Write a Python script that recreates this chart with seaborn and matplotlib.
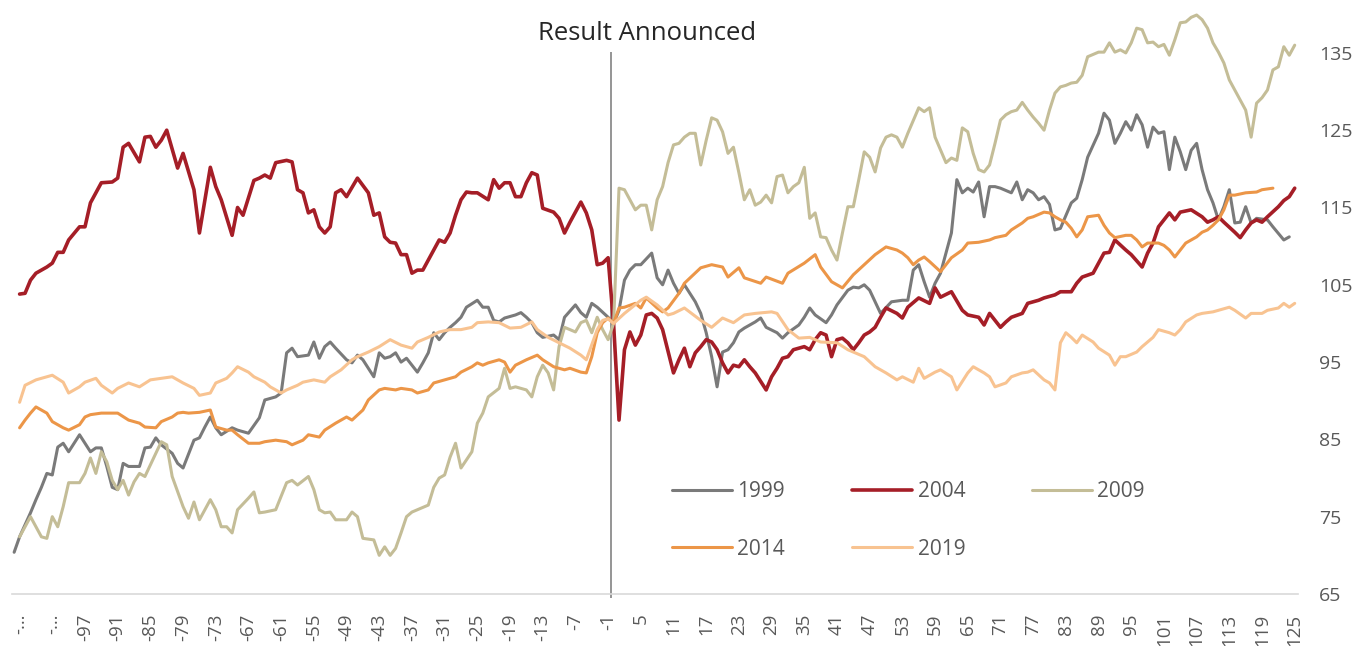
import pandas as pd
import seaborn as sns
import matplotlib.pyplot as plt

# Index values (100 = day of result): (day, value)
s1999 = [(-110, 70.4), (-109, 72.4), (-107, 75.5), (-106, 77.2), (-105, 78.8), (-104, 80.6), (-103, 80.4),
         (-102, 84.0), (-101, 84.5), (-100, 83.4), (-98, 85.6), (-96, 83.4), (-95, 83.9), (-94, 83.9),
         (-93, 81.5), (-92, 78.8), (-91, 78.5), (-90, 81.9), (-89, 81.5), (-87, 81.5), (-86, 83.9),
         (-85, 84.0), (-84, 85.2), (-83, 84.3), (-81, 83.2), (-80, 81.9), (-79, 81.3), (-77, 84.9),
         (-76, 85.2), (-75, 86.6), (-74, 87.9), (-73, 86.5), (-72, 85.6), (-70, 86.5), (-69, 86.2),
         (-67, 85.8), (-65, 87.8), (-64, 90.1), (-62, 90.5), (-61, 91.0), (-60, 96.2), (-59, 96.8),
         (-58, 95.7), (-56, 95.9), (-55, 97.6), (-54, 95.5), (-53, 97.0), (-52, 97.6), (-51, 96.8),
         (-49, 95.3), (-48, 94.9), (-47, 95.9), (-46, 95.3), (-44, 93.1), (-43, 96.2), (-42, 95.5),
         (-41, 95.7), (-40, 96.2), (-39, 95.0), (-38, 95.5), (-36, 93.7), (-35, 94.9), (-34, 96.2),
         (-33, 98.8), (-32, 97.9), (-31, 98.8), (-30, 99.5), (-29, 100.1), (-28, 100.8), (-27, 102.1),
         (-25, 103.0), (-24, 102.1), (-23, 102.1), (-22, 100.4), (-21, 100.2), (-20, 100.7), (-18, 101.1),
         (-17, 101.4), (-16, 100.8), (-15, 100.1), (-14, 98.8), (-13, 98.2), (-11, 98.5), (-10, 97.9),
         (-9, 100.8), (-7, 102.4), (-6, 101.4), (-5, 100.8), (-4, 102.6), (-3, 102.1), (-1, 100.8),
         (0, 100.0), (1, 101.7), (2, 105.6), (3, 106.9), (4, 107.6), (5, 107.6), (7, 109.1), (8, 105.9),
         (9, 105.0), (10, 106.9), (11, 105.2), (12, 103.9), (13, 105.0), (14, 103.9), (15, 102.8),
         (16, 101.3), (17, 98.8), (18, 95.7), (19, 91.8), (20, 96.3), (21, 96.6), (22, 97.5), (23, 98.9),
         (24, 99.4), (26, 100.2), (27, 100.7), (28, 99.5), (30, 98.8), (31, 98.1), (32, 98.8), (34, 99.8),
         (35, 100.8), (36, 102.0), (37, 101.1), (39, 100.1), (40, 101.1), (41, 102.4), (43, 104.3),
         (44, 104.7), (45, 104.6), (46, 105.0), (47, 104.3), (49, 101.3), (51, 102.8), (53, 103.0),
         (54, 103.0), (55, 106.9), (56, 107.6), (57, 105.4), (58, 103.4), (59, 105.2), (60, 106.5),
         (62, 111.7), (63, 118.6), (64, 116.9), (65, 117.5), (66, 117.0), (67, 118.3), (68, 113.8),
         (69, 117.7), (70, 117.7), (71, 117.5), (73, 116.9), (74, 118.3), (75, 116.0), (76, 117.3),
         (77, 116.9), (78, 116.0), (79, 116.4), (80, 115.4), (81, 112.1), (82, 112.3), (84, 115.6),
         (85, 116.2), (86, 118.6), (87, 121.5), (89, 124.6), (90, 127.2), (91, 126.3), (92, 123.3),
         (93, 124.6), (94, 126.1), (95, 125.0), (96, 127.0), (97, 125.7), (98, 122.8), (99, 125.4),
         (100, 124.6), (101, 124.8), (102, 119.9), (103, 124.1), (104, 122.2), (105, 119.9), (106, 122.4),
         (107, 123.3), (108, 119.9), (109, 117.3), (110, 115.6), (111, 113.4), (112, 115.1), (113, 117.3),
         (114, 113.0), (115, 113.1), (116, 115.1), (117, 113.0), (118, 113.6), (120, 113.4), (121, 112.5),
         (123, 110.8), (124, 111.2)]

s2004 = [(-109, 103.8), (-108, 103.9), (-107, 105.6), (-106, 106.5), (-104, 107.3), (-103, 107.8),
         (-102, 109.2), (-101, 109.2), (-100, 110.8), (-98, 112.5), (-97, 112.5), (-96, 115.6), (-94, 118.2),
         (-92, 118.3), (-91, 118.8), (-90, 122.8), (-89, 123.3), (-87, 120.9), (-86, 124.1), (-85, 124.2),
         (-84, 122.8), (-83, 123.7), (-82, 125.0), (-80, 120.1), (-79, 122.0), (-77, 117.3), (-76, 111.7),
         (-74, 120.2), (-73, 117.7), (-72, 116.0), (-70, 111.4), (-69, 115.0), (-68, 114.0), (-66, 118.5),
         (-65, 118.8), (-64, 119.2), (-63, 118.8), (-62, 120.8), (-60, 121.1), (-59, 120.9), (-58, 117.3),
         (-57, 116.9), (-56, 114.3), (-55, 114.7), (-54, 112.5), (-53, 111.7), (-52, 112.5), (-51, 116.9),
         (-50, 117.3), (-49, 116.4), (-47, 118.8), (-45, 116.9), (-44, 114.0), (-43, 114.3), (-42, 111.2),
         (-41, 110.5), (-40, 110.4), (-39, 108.9), (-38, 108.9), (-37, 106.5), (-36, 106.9), (-35, 106.9),
         (-34, 108.2), (-32, 110.8), (-31, 110.5), (-30, 111.7), (-29, 114.0), (-28, 116.0), (-27, 117.0),
         (-26, 116.9), (-25, 116.9), (-23, 116.0), (-22, 118.6), (-21, 117.5), (-20, 118.2), (-19, 118.2),
         (-18, 116.4), (-17, 116.4), (-16, 118.2), (-15, 119.5), (-14, 119.2), (-13, 114.9), (-11, 114.4),
         (-10, 113.6), (-9, 111.7), (-8, 113.1), (-6, 115.7), (-5, 114.3), (-4, 112.1), (-3, 107.6),
         (-2, 107.8), (-1, 108.5), (0, 100.0), (1, 87.5), (2, 96.6), (3, 98.9), (4, 97.2), (5, 98.5),
         (6, 101.1), (7, 101.3), (8, 100.7), (9, 99.2), (11, 93.6), (12, 95.3), (13, 96.8), (14, 94.4),
         (15, 96.2), (16, 97.0), (17, 97.9), (18, 97.6), (19, 96.6), (20, 94.9), (21, 93.6), (22, 94.6),
         (23, 94.4), (24, 95.3), (25, 94.4), (26, 93.6), (28, 91.4), (29, 93.1), (30, 94.2), (31, 95.5),
         (32, 95.7), (33, 96.6), (35, 97.0), (36, 96.6), (37, 97.9), (38, 98.8), (39, 98.5), (40, 95.7),
         (41, 97.9), (42, 98.1), (43, 97.5), (44, 96.6), (45, 97.5), (46, 98.5), (47, 98.9), (48, 99.5),
         (49, 100.8), (50, 102.0), (52, 101.3), (53, 100.7), (54, 102.1), (56, 103.3), (58, 102.6),
         (59, 104.6), (60, 103.4), (62, 104.1), (64, 101.7), (65, 101.1), (67, 100.8), (68, 99.8),
         (69, 101.3), (70, 100.4), (71, 99.5), (72, 100.2), (73, 100.8), (75, 101.3), (76, 102.6),
         (78, 103.0), (79, 103.3), (81, 103.7), (82, 104.1), (84, 104.1), (85, 105.2), (86, 106.0),
         (88, 106.5), (89, 107.8), (90, 109.1), (91, 109.2), (92, 110.8), (94, 109.5), (95, 108.9),
         (97, 107.3), (98, 109.1), (99, 110.4), (100, 112.5), (102, 114.3), (103, 113.4), (104, 114.4),
         (106, 114.7), (108, 113.8), (109, 113.1), (110, 113.4), (111, 113.8), (112, 113.1), (114, 111.8),
         (115, 111.1), (116, 112.1), (117, 113.0), (118, 113.4), (119, 113.1), (120, 113.8), (122, 115.1),
         (123, 115.9), (124, 116.4), (125, 117.5)]

s2009 = [(-109, 72.4), (-108, 73.7), (-107, 75.0), (-106, 73.7), (-105, 72.4), (-104, 72.2), (-103, 75.0),
         (-102, 73.7), (-101, 76.3), (-100, 79.4), (-98, 79.4), (-97, 80.6), (-96, 82.6), (-95, 80.6),
         (-94, 83.4), (-93, 82.1), (-92, 79.7), (-91, 78.5), (-90, 79.7), (-89, 77.8), (-88, 79.5),
         (-87, 80.6), (-86, 80.2), (-85, 81.7), (-84, 83.2), (-83, 84.7), (-82, 84.3), (-81, 80.2),
         (-79, 76.3), (-78, 74.8), (-77, 76.9), (-76, 74.6), (-74, 77.2), (-73, 75.9), (-72, 73.7),
         (-71, 73.7), (-70, 72.9), (-69, 75.9), (-67, 77.4), (-66, 78.2), (-65, 75.5), (-64, 75.6),
         (-62, 75.9), (-60, 79.4), (-59, 79.7), (-58, 79.1), (-56, 80.2), (-55, 78.5), (-54, 75.9),
         (-53, 75.5), (-52, 75.6), (-51, 74.6), (-49, 74.6), (-48, 75.6), (-47, 75.0), (-46, 72.2),
         (-44, 72.0), (-43, 70.0), (-42, 71.1), (-41, 70.0), (-40, 70.9), (-39, 72.9), (-38, 75.0),
         (-37, 75.6), (-36, 75.9), (-34, 76.5), (-33, 78.8), (-32, 80.0), (-31, 80.4), (-30, 82.7),
         (-29, 84.5), (-28, 81.3), (-26, 83.4), (-25, 87.1), (-24, 88.4), (-23, 90.5), (-21, 91.6),
         (-20, 94.2), (-19, 91.6), (-18, 91.8), (-16, 91.4), (-15, 90.5), (-14, 93.1), (-13, 94.6),
         (-12, 93.6), (-11, 91.4), (-10, 97.0), (-9, 99.5), (-7, 98.9), (-6, 100.1), (-5, 100.4),
         (-4, 98.8), (-3, 100.8), (-2, 99.2), (-1, 97.9), (0, 100.0), (1, 117.5), (2, 117.3), (3, 116.0),
         (4, 114.7), (5, 115.3), (6, 115.3), (7, 112.1), (8, 116.0), (9, 117.7), (10, 120.8), (11, 123.1),
         (12, 123.3), (13, 124.1), (14, 124.6), (15, 124.6), (16, 120.5), (17, 123.7), (18, 126.6),
         (19, 126.3), (20, 124.8), (21, 122.0), (22, 122.8), (23, 119.5), (24, 116.0), (25, 117.3),
         (26, 115.3), (27, 115.7), (28, 116.6), (29, 115.6), (30, 119.0), (31, 119.2), (32, 116.9),
         (33, 117.7), (34, 118.2), (35, 120.2), (36, 113.6), (37, 114.3), (38, 111.2), (39, 111.1),
         (40, 109.5), (41, 108.2), (42, 111.7), (43, 115.1), (44, 115.1), (45, 118.6), (46, 122.2),
         (47, 121.5), (48, 119.6), (49, 122.7), (50, 124.1), (51, 124.4), (52, 124.1), (53, 122.8),
         (54, 124.6), (56, 127.9), (57, 127.4), (58, 127.9), (59, 124.1), (61, 120.8), (62, 121.4),
         (63, 121.1), (64, 125.3), (65, 124.8), (66, 122.0), (67, 119.9), (68, 119.6), (69, 120.5),
         (70, 123.3), (71, 126.3), (72, 127.0), (73, 127.4), (74, 127.6), (75, 128.6), (76, 127.6),
         (77, 126.7), (78, 125.9), (79, 125.0), (80, 127.6), (81, 129.8), (82, 130.6), (83, 130.8),
         (84, 131.1), (85, 131.2), (86, 132.1), (87, 134.5), (89, 135.1), (90, 135.1), (91, 136.3),
         (92, 135.1), (93, 135.4), (94, 135.0), (95, 136.3), (96, 138.2), (97, 138.0), (98, 136.3),
         (99, 136.4), (100, 135.8), (101, 136.1), (102, 134.7), (103, 136.7), (104, 138.9), (105, 139.0),
         (106, 139.6), (107, 139.9), (108, 139.3), (109, 138.2), (110, 136.3), (111, 135.1), (112, 133.7),
         (113, 131.5), (114, 130.2), (115, 128.9), (116, 127.6), (117, 124.1), (118, 128.5), (119, 129.2),
         (120, 130.2), (121, 132.8), (122, 133.2), (123, 135.8), (124, 134.7), (125, 136.0)]

s2014 = [(-109, 86.5), (-108, 87.5), (-107, 88.4), (-106, 89.2), (-104, 88.4), (-103, 87.3), (-101, 86.5),
         (-100, 86.2), (-98, 86.9), (-97, 87.9), (-96, 88.2), (-94, 88.4), (-92, 88.4), (-91, 88.4),
         (-89, 87.5), (-87, 87.1), (-86, 86.6), (-84, 86.5), (-83, 87.3), (-81, 87.9), (-80, 88.4),
         (-79, 88.5), (-78, 88.4), (-76, 88.5), (-74, 88.8), (-73, 86.6), (-71, 86.2), (-70, 86.2),
         (-69, 85.6), (-67, 84.5), (-65, 84.5), (-64, 84.7), (-62, 84.9), (-60, 84.7), (-59, 84.3),
         (-57, 84.9), (-56, 85.6), (-54, 85.3), (-53, 86.2), (-51, 87.1), (-49, 87.9), (-48, 87.5),
         (-46, 88.8), (-45, 90.1), (-43, 91.4), (-42, 91.6), (-40, 91.4), (-39, 91.6), (-37, 91.4),
         (-36, 91.0), (-34, 91.4), (-33, 92.3), (-31, 92.7), (-29, 93.1), (-28, 93.7), (-26, 94.4),
         (-25, 94.9), (-24, 94.6), (-23, 94.9), (-21, 95.3), (-20, 95.0), (-19, 93.7), (-18, 94.6),
         (-16, 95.3), (-14, 95.9), (-13, 95.3), (-11, 94.4), (-9, 94.0), (-8, 94.2), (-6, 93.7),
         (-5, 93.6), (-4, 95.7), (-3, 98.8), (-2, 100.1), (-1, 100.7), (0, 100.0), (1, 102.0), (2, 102.1),
         (4, 102.6), (5, 102.0), (6, 103.3), (8, 102.0), (9, 101.5), (10, 102.0), (12, 103.9), (13, 105.2),
         (16, 107.2), (18, 107.6), (20, 107.3), (21, 106.0), (23, 107.2), (24, 105.9), (27, 105.2),
         (28, 106.0), (31, 105.2), (32, 106.5), (35, 107.8), (37, 108.9), (38, 107.3), (40, 105.4),
         (42, 104.6), (44, 106.3), (46, 107.6), (48, 108.9), (50, 109.9), (52, 109.5), (53, 109.1),
         (54, 108.5), (55, 107.6), (56, 108.2), (57, 108.6), (58, 108.0), (60, 106.7), (61, 107.6),
         (62, 108.5), (64, 109.5), (65, 110.4), (67, 110.5), (69, 110.8), (70, 111.1), (72, 111.4),
         (73, 112.1), (75, 113.0), (76, 113.6), (77, 113.8), (79, 114.4), (80, 114.3), (81, 113.8),
         (82, 113.4), (83, 113.1), (84, 112.3), (85, 111.2), (86, 112.1), (87, 113.8), (89, 114.0),
         (90, 112.7), (91, 111.7), (92, 111.1), (94, 111.4), (95, 111.4), (96, 110.8), (97, 109.9),
         (98, 110.4), (100, 110.4), (101, 110.1), (102, 109.5), (103, 108.6), (104, 109.5), (105, 110.4),
         (107, 111.2), (108, 111.8), (109, 112.1), (110, 112.7), (111, 113.4), (112, 114.7), (113, 116.6),
         (114, 116.6), (116, 116.9), (118, 117.0), (119, 117.3), (121, 117.5)]

s2019 = [(-109, 89.8), (-108, 92.0), (-106, 92.7), (-104, 93.1), (-103, 93.3), (-101, 92.4), (-100, 91.0),
         (-98, 91.8), (-97, 92.4), (-95, 92.9), (-94, 92.0), (-92, 91.0), (-91, 91.6), (-89, 92.3),
         (-87, 91.8), (-85, 92.7), (-83, 92.9), (-81, 93.1), (-79, 92.3), (-77, 91.6), (-76, 90.7),
         (-74, 91.0), (-73, 92.3), (-71, 92.9), (-70, 93.6), (-69, 94.4), (-67, 93.7), (-66, 93.1),
         (-64, 92.4), (-63, 91.8), (-61, 91.0), (-60, 91.4), (-58, 92.0), (-57, 92.4), (-55, 92.7),
         (-53, 92.4), (-52, 93.1), (-50, 94.0), (-48, 95.3), (-47, 95.7), (-45, 96.3), (-43, 97.0),
         (-41, 97.9), (-39, 97.2), (-37, 96.8), (-36, 97.6), (-34, 98.2), (-32, 98.9), (-30, 99.2),
         (-28, 99.2), (-26, 99.5), (-25, 100.1), (-23, 100.2), (-21, 100.1), (-19, 99.4), (-17, 99.5),
         (-15, 100.2), (-14, 99.2), (-12, 98.2), (-10, 97.5), (-8, 96.8), (-6, 95.9), (-5, 95.3),
         (-3, 99.2), (-2, 100.4), (-1, 100.6), (0, 100.0), (2, 101.3), (5, 103.0), (6, 103.4), (8, 102.4),
         (10, 101.1), (11, 101.3), (13, 102.0), (16, 100.4), (18, 99.5), (20, 100.7), (22, 100.1),
         (24, 101.1), (26, 101.3), (29, 101.5), (30, 101.3), (32, 99.2), (34, 98.1), (36, 98.2), (38, 97.6),
         (41, 97.5), (43, 96.6), (46, 95.7), (48, 94.4), (50, 93.6), (52, 92.7), (53, 93.1), (55, 92.4),
         (56, 94.2), (57, 92.9), (59, 93.7), (60, 94.0), (62, 93.1), (63, 91.4), (65, 93.6), (66, 94.4),
         (68, 93.6), (69, 93.1), (70, 91.8), (72, 92.3), (73, 93.1), (75, 93.6), (76, 93.7), (77, 94.0),
         (79, 92.7), (80, 92.3), (81, 91.4), (82, 97.5), (83, 98.8), (84, 98.2), (85, 97.5), (86, 98.5),
         (88, 97.6), (89, 96.8), (91, 95.9), (92, 94.6), (93, 95.7), (94, 95.7), (96, 96.3), (97, 97.0),
         (99, 98.2), (100, 99.2), (102, 98.8), (103, 98.5), (104, 99.2), (105, 100.2), (107, 101.1),
         (108, 101.3), (110, 101.5), (111, 101.7), (113, 102.1), (114, 101.7), (116, 100.7), (117, 101.3),
         (119, 101.3), (120, 101.7), (122, 102.0), (123, 102.6), (124, 102.1), (125, 102.6)]

years = ["1999", "2004", "2009", "2014", "2019"]
colors = ["#7a7a7a", "#a51e27", "#c4bd97", "#ec9648", "#f8c391"]
y_ticks = [65, 75, 85, 95, 105, 115, 125, 135]
x_ticks = [-109, -103] + list(range(-97, 126, 6))
x_labels = ["-\u2026", "-\u2026"] + [str(t) for t in range(-97, 126, 6)]

# Build one long table for seaborn
frames = []
for yr, series in zip(years, [s1999, s2004, s2009, s2014, s2019]):
    d = pd.DataFrame(series, columns=["day", "value"])
    d["year"] = yr
    frames.append(d)
df = pd.concat(frames, ignore_index=True)

sns.set_style("white")
plt.rcParams["font.family"] = ["Open Sans", "DejaVu Sans"]

fig = plt.figure(figsize=(13.6, 6.46), dpi=100)
ax = fig.add_axes([0.0088, 0.0805, 0.9456, 0.9118])

sns.lineplot(data=df, x="day", y="value", hue="year", hue_order=years,
             palette=dict(zip(years, colors)), estimator=None, sort=True,
             linewidth=2.2, legend=False, ax=ax)
for line, yr in zip(ax.lines, years):
    line.set_solid_joinstyle("round")
    if yr == "2004":
        line.set_linewidth(2.6)

# "Result Announced" marker
ax.vlines(-0.5, 64.5, 135.1, color="#8c8c8c", linewidth=1.3, clip_on=False, zorder=1)
fig.text(647 / 1360, 1 - 33 / 646, "Result Announced", ha="center", va="center",
         fontsize=18.5, color="#262626")

ax.set_xlim(-110.4, 125.6)
ax.set_ylim(65, 141.2)
ax.set_xticks(x_ticks)
ax.set_xticklabels(x_labels, rotation=90)
ax.set_yticks(y_ticks)
ax.yaxis.tick_right()
ax.tick_params(axis="x", length=0, pad=14, labelsize=13.5, labelcolor="#595959")
ax.tick_params(axis="y", length=0, pad=15, labelsize=14, labelcolor="#595959")
ax.set_xlabel("")
ax.set_ylabel("")
for side in ["top", "left", "right"]:
    ax.spines[side].set_visible(False)
ax.spines["bottom"].set_color("#d9d9d9")
ax.spines["bottom"].set_linewidth(1.2)

# legend filled row by row: 1999 2004 2009 / 2014 2019
handles = ax.lines[:5]
order = [0, 3, 1, 4, 2]
ax.legend([handles[i] for i in order], [years[i] for i in order], ncol=3, frameon=False,
          loc="upper left", bbox_to_anchor=(0.494, 0.255), bbox_transform=fig.transFigure,
          fontsize=15, handlelength=2.9, handletextpad=0.25, columnspacing=3.2,
          labelspacing=1.75, borderpad=0, borderaxespad=0, labelcolor="#595959")

fig.savefig("out.png", dpi=100)
